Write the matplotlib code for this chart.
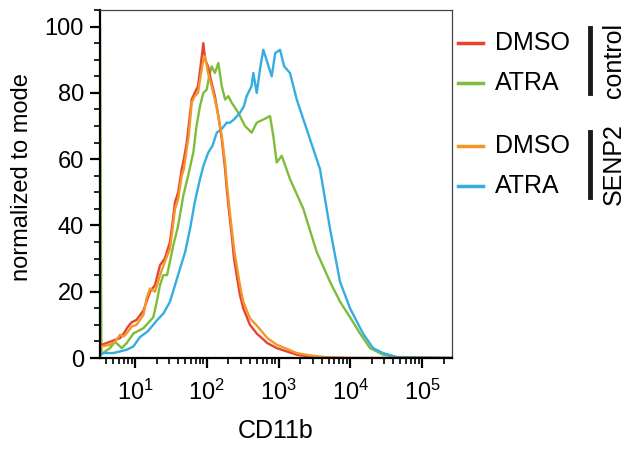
import matplotlib
matplotlib.use('Agg')
import matplotlib.pyplot as plt
from matplotlib.lines import Line2D
from matplotlib.ticker import MultipleLocator, LogLocator, NullFormatter

plt.rcParams['font.family'] = ['Liberation Sans', 'DejaVu Sans']

# Данные гистограмм CD11b (нормировано к моде)
x_dmso_ctrl = [3.25, 3.44, 4.49, 5.3, 6.18, 7.0, 8.0, 9.0, 10.5, 13.1, 14.5, 16.2, 19, 22.3, 26, 30.7, 33,
               36.1, 40, 44.8, 48, 52.6, 56, 61.7, 68, 75.5, 82, 89.6, 95, 104, 117, 130, 145, 162, 180, 190,
               205, 223, 240, 261, 290, 323, 400, 497, 700, 944, 1300, 1794, 2748, 5000, 10000, 50000, 262000]
y_dmso_ctrl = [2, 4, 4.9, 5.5, 6, 7.5, 9.5, 10.8, 11.5, 14.3, 17, 20, 22, 28, 30, 35, 40,
               47, 50, 57, 60, 65, 70, 78, 80, 82, 88, 95, 90, 88, 83, 79, 73, 66, 57, 51,
               44, 37, 30, 25, 19, 15, 10, 7.4, 4.5, 3, 2, 1, 0.4, 0.1, 0, 0, 0]

x_atra_ctrl = [3.25, 3.4, 3.58, 4.49, 5.26, 6.53, 7.66, 9.5, 13.1, 18.0, 20.1, 22.3, 24.8, 28, 34.2, 40,
               47.1, 55, 65, 72, 80.5, 89.6, 99.8, 108, 117, 130, 145, 162, 180, 200, 223, 275, 341,
               423, 497, 620, 762, 846, 944, 1109, 1446, 2218, 3407, 5222, 7200, 9930, 13680, 18850,
               28600, 44850, 262000]
y_atra_ctrl = [100, 1, 1.5, 3, 4.9, 3, 4.5, 7.4, 9, 12.3, 17, 22, 25, 25, 34, 40,
               49, 55, 62, 70, 76, 80, 81, 85, 88, 86, 89, 82, 78, 79, 77, 74, 70,
               68, 71, 72, 73, 67, 59, 61, 54, 45, 32, 23, 17, 12.3, 7.4, 3,
               1, 0.2, 0]

x_dmso_senp2 = [3.25, 3.44, 4.49, 5.3, 6.18, 7.0, 8.0, 9.0, 10.5, 13.1, 14.5, 16.2, 19, 22.3, 26, 30.7, 33,
                36.1, 40, 44.8, 48, 52.6, 56, 61.7, 68, 75.5, 82, 89.6, 95, 104, 117, 130, 145, 162, 180,
                190, 205, 223, 240, 261, 290, 323, 400, 497, 700, 944, 1300, 1794, 2748, 4740, 10000,
                50000, 262000]
y_dmso_senp2 = [3, 3.5, 4, 5, 7, 6.5, 8, 9.5, 10, 13, 18, 21, 20, 25, 29, 33, 38,
                45, 48, 55, 57, 63, 67, 77, 79, 80, 85, 90, 91, 86, 82, 78, 73, 67, 59,
                53, 46, 39, 33, 28, 22, 17, 12, 9.8, 6, 4, 2.8, 1.5, 0.8, 0.2, 0,
                0, 0]

x_atra_senp2 = [3.25, 3.58, 5, 7.66, 9.5, 11.7, 15, 20.1, 25, 30.7, 35, 42.4, 50, 58.5, 68, 80.5, 90,
                105, 120, 138, 160, 190, 211, 240, 291, 330, 360, 420, 446, 497, 560, 614, 680, 804,
                900, 1050, 1200, 1446, 1794, 2472, 3786, 5222, 7200, 9930, 15060, 20750, 28600, 44850,
                262000]
y_atra_senp2 = [1, 1.5, 1.5, 2.5, 3.5, 6.3, 8, 11.3, 13.5, 17, 21, 27, 32, 39, 47, 54, 58,
                62, 64, 68, 69, 71, 71, 72, 74, 76, 79, 82, 86, 80, 88, 93, 90, 85,
                92, 93, 88, 86, 78, 69, 57, 39, 23, 15, 7.4, 3, 1.5, 0.3,
                0]

series = [
    ('DMSO', x_dmso_ctrl, y_dmso_ctrl, '#e8432f'),
    ('ATRA', x_atra_ctrl, y_atra_ctrl, '#7fbc3c'),
    ('DMSO', x_dmso_senp2, y_dmso_senp2, '#f2982a'),
    ('ATRA', x_atra_senp2, y_atra_senp2, '#35ade0'),
]
draw_order = [1, 3, 0, 2]

fig = plt.figure(figsize=(6.3, 4.5), dpi=100)
ax = fig.add_axes([0.1587, 0.2044, 0.5588, 0.7734])

for i in draw_order:
    name, xs, ys, col = series[i]
    ax.plot(xs, ys, color=col, lw=1.7)

ax.set_xscale('log')
ax.set_xlim(3.25, 262000)
ax.set_ylim(0, 105)
ax.set_xticks([10, 100, 1000, 10000, 100000])
ax.xaxis.set_minor_locator(LogLocator(base=10, subs=range(2, 10), numticks=20))
ax.xaxis.set_minor_formatter(NullFormatter())
ax.set_yticks([0, 20, 40, 60, 80, 100])
ax.yaxis.set_minor_locator(MultipleLocator(5))

ax.tick_params(which='major', direction='out', length=7.5, width=1.6, labelsize=17)
ax.tick_params(which='minor', direction='out', length=4.5, width=1.2)
ax.tick_params(axis='x', pad=8)
ax.tick_params(axis='y', pad=4)

for s in ['left', 'bottom']:
    ax.spines[s].set_linewidth(1.6)
    ax.spines[s].set_color('black')
for s in ['top', 'right']:
    ax.spines[s].set_linewidth(0.9)
    ax.spines[s].set_color('#444444')

ax.set_xlabel('CD11b', fontsize=18, labelpad=10)
ax.set_ylabel('normalized to mode', fontsize=17)
ax.yaxis.set_label_coords(-0.19, 0.52)

# Легенда справа
leg_y = [43, 83, 146, 186]
for (name, xs, ys, col), yp in zip(series, leg_y):
    yf = 1 - yp / 450
    fig.add_artist(Line2D([458 / 630, 483 / 630], [yf, yf], color=col, lw=2.5,
                          transform=fig.transFigure))
    fig.text(495 / 630, yf, name, fontsize=18, va='center', ha='left')

for (y0, y1), label in [((28, 93), 'control'), ((132, 197), 'SENP2')]:
    fig.add_artist(Line2D([590 / 630, 590 / 630], [1 - y0 / 450, 1 - y1 / 450], color='#1a1a1a',
                          lw=3.5, transform=fig.transFigure))
    fig.text(614 / 630, 1 - (y0 + y1) / 2 / 450, label, fontsize=18, rotation=90,
             va='center', ha='center')

fig.savefig('out.png', dpi=100)
